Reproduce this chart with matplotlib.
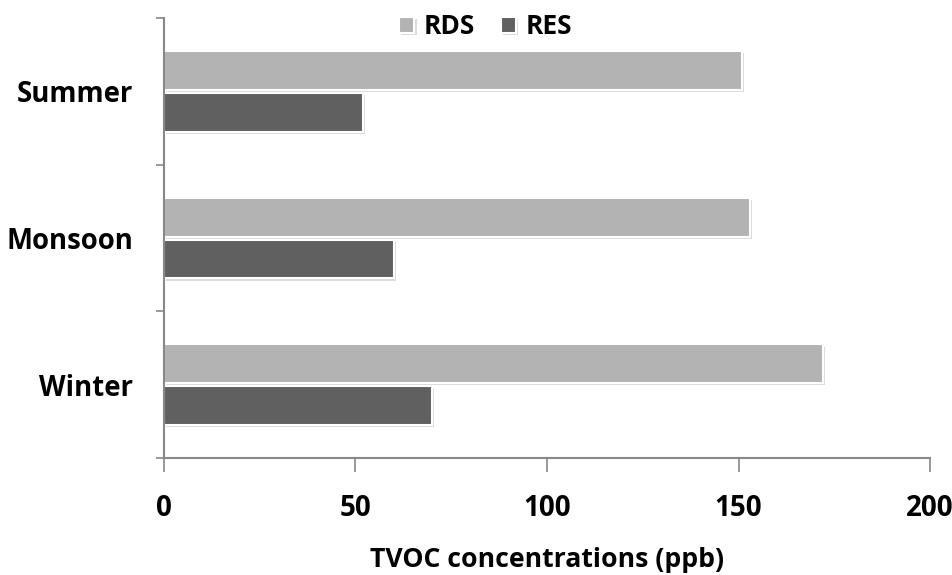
import matplotlib
matplotlib.use("Agg")
import matplotlib.pyplot as plt
import matplotlib.patheffects as pe
import numpy as np

plt.rcParams['font.family'] = ['Open Sans', 'DejaVu Sans']

seasons = ["Summer", "Monsoon", "Winter"]
rds = [151, 153, 172]
res = [52, 60, 70]
x_ticks = [0, 50, 100, 150, 200]

fig = plt.figure(figsize=(9.53, 5.75), dpi=100)
ax = fig.add_axes([0.172, 0.203, 0.804, 0.766])

pos = np.arange(len(seasons))[::-1]  # Summer at top
h = 0.265
shadow = [pe.SimplePatchShadow(offset=(1.5, -1.5), alpha=0.25, shadow_rgbFace="#707070"), pe.Normal()]
b1 = ax.barh(pos + h / 2 + 0.01, rds, height=h, color="#b3b3b3", edgecolor="white",
             linewidth=1.5, label="RDS")
b2 = ax.barh(pos - h / 2 - 0.01, res, height=h, color="#606060", edgecolor="white",
             linewidth=1.5, label="RES")
for b in list(b1) + list(b2):
    b.set_path_effects(shadow)

ax.set_xlim(0, 200)
ax.set_ylim(-0.5, 2.5)
ax.set_xticks(x_ticks)
ax.set_xticklabels([str(v) for v in x_ticks], fontsize=20, fontweight="bold")
ax.set_yticks(pos)
ax.set_yticklabels(seasons, fontsize=19.8, fontweight="bold")
ax.set_yticks([-0.5, 0.5, 1.5, 2.5], minor=True)
ax.tick_params(axis="y", which="major", length=0, pad=22)
ax.tick_params(axis="y", which="minor", length=6, color="#888888", width=1.2)
ax.tick_params(axis="x", length=10, color="#888888", width=1.2, pad=15.5)

for s in ["top", "right"]:
    ax.spines[s].set_visible(False)
for s in ["left", "bottom"]:
    ax.spines[s].set_color("#888888")
    ax.spines[s].set_linewidth(1.5)

ax.set_xlabel("TVOC concentrations (ppb)", fontsize=19.2, fontweight="bold", labelpad=17.5)

leg = ax.legend(loc="center", bbox_to_anchor=(0.42, 0.98), ncol=2, frameon=False,
                prop={"weight": "bold", "size": 19}, handlelength=0.57, handleheight=0.57,
                columnspacing=1.0, handletextpad=0.35)

fig.savefig("out.png", dpi=100)
